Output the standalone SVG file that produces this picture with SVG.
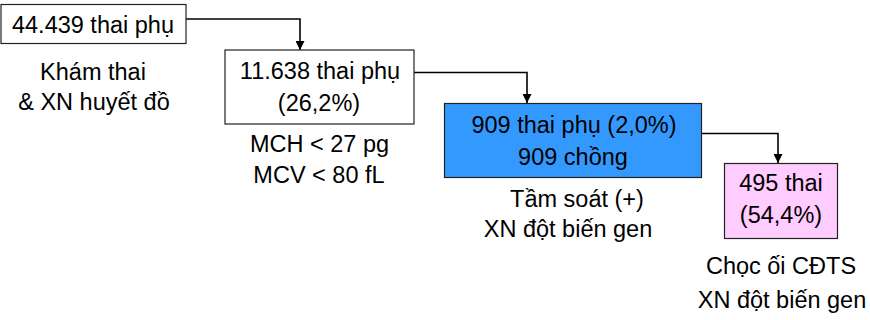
<svg xmlns="http://www.w3.org/2000/svg" width="870" height="320" viewBox="0 0 870 320">
<defs>
<marker id="arr" viewBox="0 0 10 10" refX="10" refY="5" markerWidth="9" markerHeight="9" markerUnits="userSpaceOnUse" orient="auto">
<path d="M0,0 L10,5 L0,10 Z" fill="#000"/>
</marker>
</defs>
<style>
text{font-family:"Liberation Sans",Arial,sans-serif;font-size:23.5px;fill:#000;text-anchor:middle}
.box{stroke:#222;stroke-width:1.2}
.conn{fill:none;stroke:#000;stroke-width:1.6;marker-end:url(#arr)}
</style>
<rect width="870" height="320" fill="#fff"/>
<g id="connectors">
<path class="conn" d="M186,19 H300 V50"/>
<path class="conn" d="M414,72.5 H527 V103"/>
<path class="conn" d="M702,133.5 H778 V163"/>
</g>
<g id="n1">
<rect class="box" x="1" y="4.5" width="185" height="39" fill="#fff"/>
<text x="93" y="33">44.439 thai phụ</text>
<text x="93" y="80">Khám thai</text>
<text x="94" y="110">&amp; XN huyết đồ</text>
</g>
<g id="n2">
<rect class="box" x="225" y="50" width="189" height="74" fill="#fff"/>
<text x="320" y="79">11.638 thai phụ</text>
<text x="319" y="111">(26,2%)</text>
<text x="319.5" y="152">MCH &lt; 27 pg</text>
<text x="319" y="183">MCV &lt; 80 fL</text>
</g>
<g id="n3">
<rect class="box" x="444.5" y="103.5" width="257" height="74" fill="#3399FF"/>
<text x="574" y="132.5">909 thai phụ (2,0%)</text>
<text x="573" y="165">909 chồng</text>
<text x="577" y="206.5">Tầm soát (+)</text>
<text x="568" y="236.5">XN đột biến gen</text>
</g>
<g id="n4">
<rect class="box" x="724.5" y="163.5" width="113" height="75" fill="#FFCCFF"/>
<text x="781" y="191">495 thai</text>
<text x="781" y="223">(54,4%)</text>
<text x="781" y="274">Chọc ối CĐTS</text>
<text x="782" y="308">XN đột biến gen</text>
</g>
</svg>
